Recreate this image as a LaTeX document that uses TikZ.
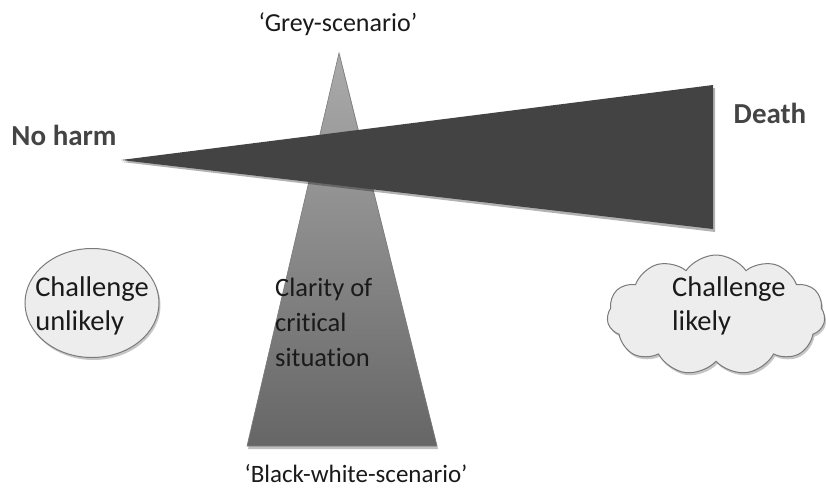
\documentclass[tikz,border=0pt]{standalone}
\usepackage{fontspec}
\setmainfont[Ligatures=NoCommon]{Carlito}
\usetikzlibrary{shapes.symbols,shapes.geometric,shadows,calc}
\definecolor{wedgegrey}{HTML}{434343}
\definecolor{lightfill}{HTML}{EDEDED}
\definecolor{edgegrey}{HTML}{7A7A7A}
\definecolor{txt}{HTML}{1A1A1A}
\definecolor{boldtxt}{HTML}{444444}
\tikzset{
  bigtext/.style={font=\fontsize{26}{34}\selectfont, text=txt, inner sep=0pt},
  claritytext/.style={font=\fontsize{26.5}{35}\selectfont, text=txt, inner sep=0pt, align=left},
  bubbletext/.style={font=\fontsize{28.5}{33.5}\selectfont, text=txt, inner sep=0pt, align=left},
  boldlabel/.style={font=\fontsize{29}{34}\selectfont\bfseries, text=boldtxt, inner sep=0pt},
  bubble/.style={fill=lightfill, draw=edgegrey, line width=1pt,
    drop shadow={shadow xshift=1.5pt, shadow yshift=-2.5pt, opacity=0.45}},
}
\begin{document}
\begin{tikzpicture}[x=1pt,y=-1pt]
\useasboundingbox (0,0) rectangle (826,498);
% vertical triangle
\coordinate (apex) at (339,53);
\coordinate (bl) at (247,446);
\coordinate (br) at (437,446);
\fill[black, opacity=0.25] ($(apex)+(1,2)$) -- ($(bl)+(1,3)$) -- ($(br)+(1,3)$) -- cycle;
\shade[top color=black!33, bottom color=black!60, draw=edgegrey, line width=0.6pt]
  (apex) -- (bl) -- (br) -- cycle;
% horizontal wedge
\coordinate (tip) at (121,160);
\coordinate (rt) at (713,85);
\coordinate (rb) at (713,229);
\fill[black, opacity=0.3] ($(tip)+(1,2)$) -- ($(rt)+(2,3)$) -- ($(rb)+(2,3)$) -- cycle;
\fill[wedgegrey] (tip) -- (rt) -- (rb) -- cycle;
% labels
\node[bigtext] (grey) at (338,24) {‘Grey-scenario’};
\node[bigtext, font=\fontsize{25}{30}\selectfont] (bw) at (356,474) {‘Black-white-scenario’};
\node[boldlabel] (noharm) at (64,135) {No harm};
\node[boldlabel] (death) at (770,113) {Death};
\node[claritytext, anchor=north west] (clarity) at (275,278) {Clarity of\\critical\\situation};
% ellipse
\node[ellipse, bubble, minimum width=134pt, minimum height=109pt] (ell) at (92,303) {};
\node[bubbletext] (ellt) at (92,306) {Challenge\\unlikely};
% cloud
\node[cloud, cloud puffs=11, cloud puff arc=110, aspect=1.9, bubble,
  minimum width=218pt, minimum height=120pt] (cl) at (716,315) {};
\node[bubbletext, anchor=west] (clt) at (672,306) {Challenge\\likely};
\end{tikzpicture}
\end{document}
